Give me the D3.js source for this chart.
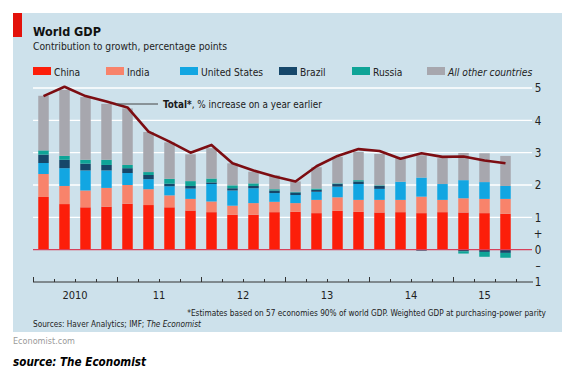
<!DOCTYPE html>
<html><head><meta charset="utf-8">
<script src="https://cdn.jsdelivr.net/npm/d3@7"></script>
<style>
html,body{margin:0;padding:0;background:#fff;}
svg{display:block;}
</style></head><body>
<svg id="chart" width="580" height="391"></svg>
<script>
// ---- data ----
const quarters = ["2010Q1","2010Q2","2010Q3","2010Q4","2011Q1","2011Q2","2011Q3","2011Q4",
  "2012Q1","2012Q2","2012Q3","2012Q4","2013Q1","2013Q2","2013Q3","2013Q4",
  "2014Q1","2014Q2","2014Q3","2014Q4","2015Q1","2015Q2","2015Q3"];
const yearLabels = ["2010","11","12","13","14","15"];
const seriesNames = ["China","India","United States","Brazil","Russia","All other countries"];
const china  = [1.63,1.41,1.31,1.33,1.42,1.38,1.31,1.21,1.16,1.08,1.08,1.16,1.17,1.13,1.20,1.17,1.15,1.16,1.13,1.16,1.15,1.13,1.11];
const india  = [0.71,0.56,0.52,0.58,0.58,0.49,0.37,0.36,0.33,0.28,0.36,0.32,0.27,0.41,0.42,0.37,0.39,0.38,0.51,0.38,0.44,0.44,0.46];
const us     = [0.34,0.55,0.62,0.54,0.37,0.31,0.28,0.32,0.54,0.47,0.46,0.27,0.25,0.25,0.33,0.49,0.34,0.56,0.59,0.49,0.56,0.52,0.40];
const brazil = [0.26,0.26,0.21,0.17,0.15,0.13,0.08,0.08,0.05,0.07,0.07,0.08,0.08,0.06,0.08,0.08,0.09,0.00,-0.03,0.00,-0.05,-0.07,-0.10];
const russia = [0.13,0.12,0.12,0.16,0.10,0.09,0.15,0.15,0.12,0.09,0.08,0.04,0.02,0.04,0.02,0.04,0.02,0.00,0.00,0.00,-0.07,-0.15,-0.15];
const others = [1.69,2.04,1.94,1.73,1.75,1.24,1.13,0.83,0.94,0.68,0.36,0.43,0.32,0.66,0.82,0.87,0.97,0.73,0.69,0.80,0.84,0.89,0.93];
const total  = [4.75,5.04,4.75,4.58,4.40,3.65,3.34,3.00,3.24,2.67,2.45,2.26,2.11,2.58,2.90,3.11,3.05,2.81,2.98,2.87,2.88,2.76,2.67];
const yTickValues = [-1,-0.5,0,0.5,1,2,3,4,5];
const yTickLabels = ["1","\u2013","0","+","1","2","3","4","5"];
const gridValues = [1,2,3,4,5];

const seriesColors = ["#fc1e0a","#f8836b","#12a6e2","#16476a","#0fa497","#a7a7ae"];
const seriesValues = [china, india, us, brazil, russia, others];

// ---- font choice: use a narrow face if one is installed ----
const svg = d3.select("#chart");
function hasFont(name){
  const t = svg.append("text").attr("font-size",40).text("abcdefghijklmnopqrstuvwxyz");
  t.attr("font-family","monospace"); const a = t.node().getComputedTextLength();
  t.attr("font-family",`'${name}', monospace`); const b = t.node().getComputedTextLength();
  t.remove(); return Math.abs(a-b) > 1;
}
const FONT = hasFont("Liberation Sans Narrow") ? "'Liberation Sans Narrow', 'Liberation Sans', Arial, sans-serif"
          : (hasFont("DejaVu Sans Condensed") ? "'DejaVu Sans Condensed', 'Liberation Sans', sans-serif"
          : "'Liberation Sans', Arial, sans-serif");
svg.attr("font-family", FONT);

// fit a text to a target width by adjusting its font size (capped)
function fitSize(sel, w, maxSize){
  const fs = +sel.attr("font-size");
  const len = sel.node().getComputedTextLength();
  let nf = fs * w / len;
  if (maxSize) nf = Math.min(nf, maxSize);
  sel.attr("font-size", nf.toFixed(2));
  return sel;
}

const W = 580, H = 391;
svg.append("rect").attr("width",W).attr("height",H).attr("fill","#fff");
svg.append("rect").attr("x",13).attr("y",13).attr("width",549).attr("height",319).attr("fill","#cde1eb");
svg.append("rect").attr("x",13).attr("y",13).attr("width",9).attr("height",24).attr("fill","#e3120b");

fitSize(svg.append("text").attr("x",33).attr("y",36).attr("font-size",15).attr("font-weight","bold")
  .attr("fill","#111").text("World GDP"), 68, 15);
fitSize(svg.append("text").attr("x",33).attr("y",50).attr("font-size",12).attr("fill","#222")
  .text("Contribution to growth, percentage points"), 194, 12);

// legend
const legendX = [33,106,180,279,352,427];
const leg = svg.append("g");
seriesNames.forEach((n,i)=>{
  leg.append("rect").attr("x",legendX[i]).attr("y",67).attr("width",18).attr("height",8).attr("fill",seriesColors[i]);
  const t = leg.append("text").attr("x",legendX[i]+21).attr("y",75.5).attr("font-size",10.2).attr("fill","#222").text(n);
  if(i===5) t.attr("font-style","italic");
});

// scales
const x = d3.scaleLinear().domain([0,24]).range([33,537]);
const y = d3.scaleLinear().domain([-1,5]).range([282,88]);

// gridlines
svg.append("g").selectAll("line").data(gridValues).join("line")
  .attr("x1",33).attr("x2",532).attr("y1",d=>y(d)).attr("y2",d=>y(d))
  .attr("stroke","#fff").attr("stroke-width",1.4);

// stacked bars
const rows = quarters.map((q,i)=>{ const r={q, i}; seriesNames.forEach((n,k)=>r[n]=seriesValues[k][i]); return r; });
const stacked = d3.stack().keys(seriesNames).offset(d3.stackOffsetDiverging)(rows);
svg.append("g").selectAll("g").data(stacked).join("g")
  .attr("fill",(d,k)=>seriesColors[k])
  .selectAll("rect").data(d=>d).join("rect")
  .attr("x",d=>x(d.data.i+0.25)).attr("width",d=>x(d.data.i+0.75)-x(d.data.i+0.25))
  .attr("y",d=>y(Math.max(d[0],d[1]))).attr("height",d=>Math.abs(y(d[0])-y(d[1])));

// zero line
svg.append("line").attr("x1",33).attr("x2",532).attr("y1",y(0)).attr("y2",y(0))
  .attr("stroke","#d8405a").attr("stroke-width",1.1);

// total line
const line = d3.line().x((d,i)=>x(i+0.5)).y(d=>y(d));
svg.append("path").datum(total).attr("d",line).attr("fill","none")
  .attr("stroke","#7c0d12").attr("stroke-width",2.6).attr("stroke-linejoin","round");

// annotation
svg.append("line").attr("x1",x(3.5)+10).attr("x2",158).attr("y1",104).attr("y2",104)
  .attr("stroke","#444").attr("stroke-width",1);
const ann = svg.append("text").attr("x",163).attr("y",108).attr("font-size",11.5).attr("fill","#1a1a1a");
ann.append("tspan").attr("font-weight","bold").text("Total*");
ann.append("tspan").text(", % increase on a year earlier");
fitSize(ann, 159, 11.5);

// x axis
const axY = y(-1);
svg.append("line").attr("x1",33).attr("x2",533).attr("y1",axY).attr("y2",axY).attr("stroke","#333").attr("stroke-width",1);
const boundaries = d3.range(0,24);
const minorAxis = d3.axisBottom(x).tickValues(boundaries.filter(b=>b%4!==0)).tickSize(-3).tickFormat("").tickSizeOuter(0);
const majorAxis = d3.axisBottom(x).tickValues(boundaries.filter(b=>b%4===0)).tickSize(-5).tickFormat("").tickSizeOuter(0);
[minorAxis, majorAxis].forEach(a=>{
  const g = svg.append("g").attr("transform",`translate(0,${axY})`).call(a);
  g.select(".domain").remove();
  g.selectAll(".tick line").attr("stroke","#333");
});
// year labels
const yearCenters = yearLabels.map((lab,k)=>{
  const idx = quarters.map((q,i)=>i).filter(i=>Math.floor(i/4)===k);
  return d3.mean(idx, i=>x(i+0.5));
});
svg.append("g").selectAll("text").data(yearLabels).join("text")
  .attr("x",(d,k)=>yearCenters[k]).attr("y",299).attr("text-anchor","middle")
  .attr("font-size",11).attr("fill","#222").text(d=>d);

// y axis (right)
const yAxis = d3.axisRight(y).tickValues(yTickValues).tickSize(0).tickPadding(6)
  .tickFormat((d,i)=>yTickLabels[i]);
const gy = svg.append("g").attr("transform","translate(532,0)").call(yAxis);
gy.select(".domain").remove();
gy.selectAll("text").attr("text-anchor","middle").attr("font-size",11.5).attr("fill","#222")
  .attr("font-family",FONT);

// footnotes
fitSize(svg.append("text").attr("x",546).attr("y",315.5).attr("text-anchor","end").attr("font-size",10).attr("fill","#222")
  .text("*Estimates based on 57 economies 90% of world GDP. Weighted GDP at purchasing-power parity"), 359, 10);
const src = svg.append("text").attr("x",33).attr("y",326.5).attr("font-size",10).attr("fill","#222");
src.append("tspan").text("Sources: Haver Analytics; IMF; ");
src.append("tspan").attr("font-style","italic").text("The Economist");
fitSize(src, 168, 10);
fitSize(svg.append("text").attr("x",13).attr("y",344).attr("font-size",10).attr("fill","#9a9a9a").text("Economist.com"), 62, 10);
fitSize(svg.append("text").attr("x",13).attr("y",366).attr("font-size",13).attr("font-weight","bold").attr("font-style","italic")
  .attr("fill","#000").text("source: The Economist"), 133, 13);
</script>
</body></html>
